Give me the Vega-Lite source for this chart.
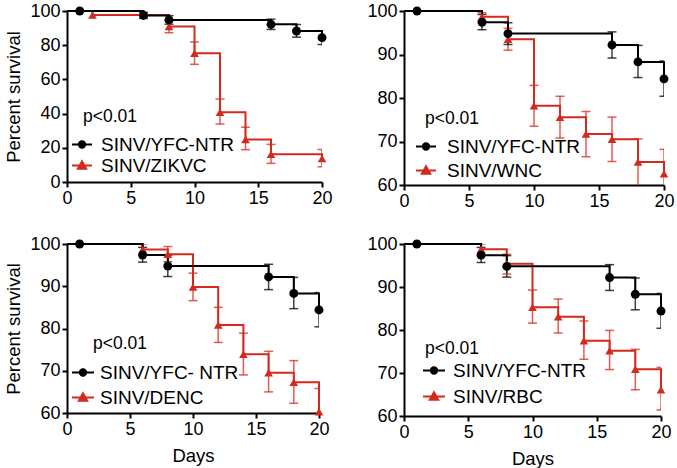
{
  "$schema": "https://vega.github.io/schema/vega-lite/v6.json",
  "padding": {"left": 4, "top": 2, "right": 0, "bottom": 0},
  "background": "white",
  "data": {"values": [
    {"p":1,"g":"SINV/ZIKVC","d":0,"s":100},
    {"p":1,"g":"SINV/ZIKVC","d":2,"s":97.6},
    {"p":1,"g":"SINV/ZIKVC","d":8,"s":91,"lo":87.3,"hi":94.3},
    {"p":1,"g":"SINV/ZIKVC","d":10,"s":75.3,"lo":68.8,"hi":81.9},
    {"p":1,"g":"SINV/ZIKVC","d":12,"s":40.8,"lo":33.9,"hi":48.5},
    {"p":1,"g":"SINV/ZIKVC","d":14,"s":24.9,"lo":18.9,"hi":32},
    {"p":1,"g":"SINV/ZIKVC","d":16,"s":16.2,"lo":10.9,"hi":22},
    {"p":1,"g":"SINV/ZIKVC","d":20,"s":13.8,"lo":8.9,"hi":19},
    {"p":1,"g":"SINV/YFC-NTR","d":0,"s":100},
    {"p":1,"g":"SINV/YFC-NTR","d":1,"s":100},
    {"p":1,"g":"SINV/YFC-NTR","d":6,"s":97.4,"lo":95.7,"hi":99.2},
    {"p":1,"g":"SINV/YFC-NTR","d":8,"s":94.8,"lo":92.3,"hi":97.3},
    {"p":1,"g":"SINV/YFC-NTR","d":16,"s":92.2,"lo":89.2,"hi":95.2},
    {"p":1,"g":"SINV/YFC-NTR","d":18,"s":88.3,"lo":84.7,"hi":92.1},
    {"p":1,"g":"SINV/YFC-NTR","d":20,"s":84.4,"lo":80.4,"hi":88.5},
    {"p":2,"g":"SINV/WNC","d":0,"s":100},
    {"p":2,"g":"SINV/WNC","d":6,"s":98.7,"lo":97.7,"hi":99.6},
    {"p":2,"g":"SINV/WNC","d":8,"s":93.5,"lo":91,"hi":96},
    {"p":2,"g":"SINV/WNC","d":10,"s":78.2,"lo":73.5,"hi":82.9},
    {"p":2,"g":"SINV/WNC","d":12,"s":75.6,"lo":70.8,"hi":80.4},
    {"p":2,"g":"SINV/WNC","d":14,"s":71.7,"lo":66.5,"hi":76.9},
    {"p":2,"g":"SINV/WNC","d":16,"s":70.5,"lo":65.4,"hi":75.6},
    {"p":2,"g":"SINV/WNC","d":18,"s":65.3,"lo":59,"hi":70.6},
    {"p":2,"g":"SINV/WNC","d":20,"s":62.6,"lo":57,"hi":68.2},
    {"p":2,"g":"SINV/YFC-NTR","d":0,"s":100},
    {"p":2,"g":"SINV/YFC-NTR","d":1,"s":100},
    {"p":2,"g":"SINV/YFC-NTR","d":6,"s":97.4,"lo":95.7,"hi":99.2},
    {"p":2,"g":"SINV/YFC-NTR","d":8,"s":94.8,"lo":92.3,"hi":97.3},
    {"p":2,"g":"SINV/YFC-NTR","d":16,"s":92.2,"lo":89.2,"hi":95.2},
    {"p":2,"g":"SINV/YFC-NTR","d":18,"s":88.3,"lo":84.7,"hi":92.1},
    {"p":2,"g":"SINV/YFC-NTR","d":20,"s":84.4,"lo":80.4,"hi":88.5},
    {"p":3,"g":"SINV/DENC","d":0,"s":100},
    {"p":3,"g":"SINV/DENC","d":6,"s":98.7,"lo":97.4,"hi":100},
    {"p":3,"g":"SINV/DENC","d":8,"s":97.6,"lo":95.8,"hi":99.4},
    {"p":3,"g":"SINV/DENC","d":10,"s":89.8,"lo":86.6,"hi":93.1},
    {"p":3,"g":"SINV/DENC","d":12,"s":80.8,"lo":76.7,"hi":85},
    {"p":3,"g":"SINV/DENC","d":14,"s":73.9,"lo":69,"hi":78.9},
    {"p":3,"g":"SINV/DENC","d":16,"s":69.5,"lo":65,"hi":74.6},
    {"p":3,"g":"SINV/DENC","d":18,"s":67.3,"lo":62.3,"hi":72.4},
    {"p":3,"g":"SINV/DENC","d":20,"s":60.3,"lo":55,"hi":65.8},
    {"p":3,"g":"SINV/YFC- NTR","d":0,"s":100},
    {"p":3,"g":"SINV/YFC- NTR","d":1,"s":100},
    {"p":3,"g":"SINV/YFC- NTR","d":6,"s":97.4,"lo":95.7,"hi":99.2},
    {"p":3,"g":"SINV/YFC- NTR","d":8,"s":94.8,"lo":92.3,"hi":97.3},
    {"p":3,"g":"SINV/YFC- NTR","d":16,"s":92.2,"lo":89.2,"hi":95.2},
    {"p":3,"g":"SINV/YFC- NTR","d":18,"s":88.3,"lo":84.7,"hi":92.1},
    {"p":3,"g":"SINV/YFC- NTR","d":20,"s":84.4,"lo":80.4,"hi":88.5},
    {"p":4,"g":"SINV/RBC","d":0,"s":100},
    {"p":4,"g":"SINV/RBC","d":6,"s":98.8,"lo":97.6,"hi":100},
    {"p":4,"g":"SINV/RBC","d":8,"s":95.4,"lo":93,"hi":97.6},
    {"p":4,"g":"SINV/RBC","d":10,"s":85.3,"lo":81.6,"hi":89.3},
    {"p":4,"g":"SINV/RBC","d":12,"s":83.1,"lo":79.3,"hi":87.2},
    {"p":4,"g":"SINV/RBC","d":14,"s":77.5,"lo":73.2,"hi":82.1},
    {"p":4,"g":"SINV/RBC","d":16,"s":75.2,"lo":70.8,"hi":79.9},
    {"p":4,"g":"SINV/RBC","d":18,"s":70.9,"lo":66.1,"hi":75.5},
    {"p":4,"g":"SINV/RBC","d":20,"s":66.1,"lo":61.4,"hi":71.3},
    {"p":4,"g":"SINV/YFC-NTR","d":0,"s":100},
    {"p":4,"g":"SINV/YFC-NTR","d":1,"s":100},
    {"p":4,"g":"SINV/YFC-NTR","d":6,"s":97.4,"lo":95.7,"hi":99.2},
    {"p":4,"g":"SINV/YFC-NTR","d":8,"s":94.8,"lo":92.3,"hi":97.3},
    {"p":4,"g":"SINV/YFC-NTR","d":16,"s":92.2,"lo":89.2,"hi":95.2},
    {"p":4,"g":"SINV/YFC-NTR","d":18,"s":88.3,"lo":84.7,"hi":92.1},
    {"p":4,"g":"SINV/YFC-NTR","d":20,"s":84.4,"lo":80.4,"hi":88.5}
  ]},
  "config": {
    "view": {"stroke": null},
    "font": "Liberation Sans",
    "scale": {"continuousPadding": 0},
    "axis": {
      "domainColor": "black", "domainWidth": 2, "tickColor": "black", "tickWidth": 2, "tickSize": 5,
      "labelFont": "Liberation Sans", "labelFontSize": 18, "labelColor": "black", "labelPadding": 2, "labelFlush": false, "labelOverlap": false,
      "titleFont": "Liberation Sans", "titleFontSize": 18.5, "titleFontWeight": "normal", "titleColor": "black", "titlePadding": 6,
      "grid": false
    },
    "axisX": {"titlePadding": 8},
    "legend": {
      "labelFont": "Liberation Sans", "labelFontSize": 19, "labelColor": "black",
      "titleFont": "Liberation Sans", "titleFontSize": 17.5, "titleFontWeight": "normal", "titleColor": "black",
      "symbolSize": 400, "padding": 0
    }
  },
  "columns": 2,
  "spacing": {"row": 25, "column": 33},
  "resolve": {
    "scale": {"color": "independent", "x": "independent", "y": "independent"},
    "legend": {"color": "independent"}
  },
  "concat": [
    {
      "width": 255, "height": 171,
      "transform": [{"filter": "datum.p === 1"}],
      "encoding": {
        "x": {"field": "d", "type": "quantitative", "scale": {"domain": [0, 20], "nice": false, "padding": 0}, "axis": {"values": [0, 5, 10, 15, 20], "title": null, "labelOverlap": false}},
        "y": {"field": "s", "type": "quantitative", "scale": {"domain": [0, 100], "nice": false, "padding": 0}, "axis": {"values": [0, 20, 40, 60, 80, 100], "title": "Percent survival", "labelOverlap": false}},
        "color": {"field": "g", "type": "nominal", "scale": {"domain": ["SINV/YFC-NTR", "SINV/ZIKVC"], "range": ["#000000", "#d42a1e"]},
          "legend": {"orient": "none", "legendX": 4, "legendY": 97, "title": "p<0.01", "titlePadding": 8, "rowPadding": 0, "labelOffset": 8,
            "encode": {
              "title": {"update": {"dx": {"value": 12}}},
              "symbols": {"update": {
                "shape": {"signal": "datum.index === 0 ? 'M-1,0L1,0M0.32,0A0.32,0.32,0,1,1,-0.32,0A0.32,0.32,0,1,1,0.32,0Z' : 'M-1,0L1,0M-0.42,0.32L0.42,0.32L0,-0.42Z'"},
                "fill": {"signal": "datum.index === 0 ? '#000000' : '#d42a1e'"},
                "stroke": {"signal": "datum.index === 0 ? '#000000' : '#d42a1e'"},
                "strokeWidth": {"value": 2}, "opacity": {"value": 1}, "fillOpacity": {"value": 1}, "strokeOpacity": {"value": 1}}}
            }}}
      },
      "layer": [
        {"mark": {"type": "rule", "strokeWidth": 1.5, "opacity": 0.75, "clip": true}, "transform": [{"filter": "isValid(datum.lo)"}],
          "encoding": {"y": {"field": "lo", "type": "quantitative"}, "y2": {"field": "hi"}}},
        {"mark": {"type": "tick", "orient": "horizontal", "size": 9, "thickness": 1.5, "opacity": 0.75, "clip": true}, "transform": [{"filter": "isValid(datum.lo)"}],
          "encoding": {"y": {"field": "lo", "type": "quantitative"}}},
        {"mark": {"type": "tick", "orient": "horizontal", "size": 9, "thickness": 1.5, "opacity": 0.75, "clip": true}, "transform": [{"filter": "isValid(datum.lo)"}],
          "encoding": {"y": {"field": "hi", "type": "quantitative"}}},
        {"mark": {"type": "line", "interpolate": "step-after", "strokeWidth": 2}, "encoding": {}},
        {"mark": {"type": "point", "shape": "triangle-up", "filled": true, "size": 75, "opacity": 1}, "transform": [{"filter": "datum.d > 0 && indexof(datum.g, 'YFC') < 0"}], "encoding": {}},
        {"mark": {"type": "point", "shape": "circle", "filled": true, "size": 80, "opacity": 1}, "transform": [{"filter": "datum.d > 0 && indexof(datum.g, 'YFC') >= 0"}], "encoding": {}}
      ]
    },
    {
      "width": 260, "height": 174,
      "transform": [{"filter": "datum.p === 2"}],
      "encoding": {
        "x": {"field": "d", "type": "quantitative", "scale": {"domain": [0, 20], "nice": false, "padding": 0}, "axis": {"values": [0, 5, 10, 15, 20], "title": null, "labelOverlap": false}},
        "y": {"field": "s", "type": "quantitative", "scale": {"domain": [60, 100], "nice": false, "padding": 0}, "axis": {"values": [60, 70, 80, 90, 100], "title": null, "labelOverlap": false}},
        "color": {"field": "g", "type": "nominal", "scale": {"domain": ["SINV/YFC-NTR", "SINV/WNC"], "range": ["#000000", "#d42a1e"]},
          "legend": {"orient": "none", "legendX": 11, "legendY": 99, "title": "p<0.01", "titlePadding": 8, "rowPadding": 3, "labelOffset": 10,
            "encode": {
              "title": {"update": {"dx": {"value": 10}}},
              "symbols": {"update": {
                "shape": {"signal": "datum.index === 0 ? 'M-1,0L1,0M0.32,0A0.32,0.32,0,1,1,-0.32,0A0.32,0.32,0,1,1,0.32,0Z' : 'M-1,0L1,0M-0.42,0.32L0.42,0.32L0,-0.42Z'"},
                "fill": {"signal": "datum.index === 0 ? '#000000' : '#d42a1e'"},
                "stroke": {"signal": "datum.index === 0 ? '#000000' : '#d42a1e'"},
                "strokeWidth": {"value": 2}, "opacity": {"value": 1}, "fillOpacity": {"value": 1}, "strokeOpacity": {"value": 1}}}
            }}}
      },
      "layer": [
        {"mark": {"type": "rule", "strokeWidth": 1.5, "opacity": 0.75, "clip": true}, "transform": [{"filter": "isValid(datum.lo)"}],
          "encoding": {"y": {"field": "lo", "type": "quantitative"}, "y2": {"field": "hi"}}},
        {"mark": {"type": "tick", "orient": "horizontal", "size": 9, "thickness": 1.5, "opacity": 0.75, "clip": true}, "transform": [{"filter": "isValid(datum.lo)"}],
          "encoding": {"y": {"field": "lo", "type": "quantitative"}}},
        {"mark": {"type": "tick", "orient": "horizontal", "size": 9, "thickness": 1.5, "opacity": 0.75, "clip": true}, "transform": [{"filter": "isValid(datum.lo)"}],
          "encoding": {"y": {"field": "hi", "type": "quantitative"}}},
        {"mark": {"type": "line", "interpolate": "step-after", "strokeWidth": 2}, "encoding": {}},
        {"mark": {"type": "point", "shape": "triangle-up", "filled": true, "size": 75, "opacity": 1}, "transform": [{"filter": "datum.d > 0 && indexof(datum.g, 'YFC') < 0"}], "encoding": {}},
        {"mark": {"type": "point", "shape": "circle", "filled": true, "size": 80, "opacity": 1}, "transform": [{"filter": "datum.d > 0 && indexof(datum.g, 'YFC') >= 0"}], "encoding": {}}
      ]
    },
    {
      "width": 252, "height": 169,
      "transform": [{"filter": "datum.p === 3"}],
      "encoding": {
        "x": {"field": "d", "type": "quantitative", "scale": {"domain": [0, 20], "nice": false, "padding": 0}, "axis": {"values": [0, 5, 10, 15, 20], "title": "Days", "labelOverlap": false}},
        "y": {"field": "s", "type": "quantitative", "scale": {"domain": [60, 100], "nice": false, "padding": 0}, "axis": {"values": [60, 70, 80, 90, 100], "title": "Percent survival", "labelOverlap": false}},
        "color": {"field": "g", "type": "nominal", "scale": {"domain": ["SINV/YFC- NTR", "SINV/DENC"], "range": ["#000000", "#d42a1e"]},
          "legend": {"orient": "none", "legendX": 5, "legendY": 91, "title": "p<0.01", "titlePadding": 9, "rowPadding": 4, "labelOffset": 6,
            "encode": {
              "title": {"update": {"dx": {"value": 21}}},
              "symbols": {"update": {
                "shape": {"signal": "datum.index === 0 ? 'M-1.1,0L1.1,0M0.32,0A0.32,0.32,0,1,1,-0.32,0A0.32,0.32,0,1,1,0.32,0Z' : 'M-1.1,0L1.1,0M-0.42,0.32L0.42,0.32L0,-0.42Z'"},
                "fill": {"signal": "datum.index === 0 ? '#000000' : '#d42a1e'"},
                "stroke": {"signal": "datum.index === 0 ? '#000000' : '#d42a1e'"},
                "strokeWidth": {"value": 2}, "opacity": {"value": 1}, "fillOpacity": {"value": 1}, "strokeOpacity": {"value": 1}}}
            }}}
      },
      "layer": [
        {"mark": {"type": "rule", "strokeWidth": 1.5, "opacity": 0.75, "clip": true}, "transform": [{"filter": "isValid(datum.lo)"}],
          "encoding": {"y": {"field": "lo", "type": "quantitative"}, "y2": {"field": "hi"}}},
        {"mark": {"type": "tick", "orient": "horizontal", "size": 9, "thickness": 1.5, "opacity": 0.75, "clip": true}, "transform": [{"filter": "isValid(datum.lo)"}],
          "encoding": {"y": {"field": "lo", "type": "quantitative"}}},
        {"mark": {"type": "tick", "orient": "horizontal", "size": 9, "thickness": 1.5, "opacity": 0.75, "clip": true}, "transform": [{"filter": "isValid(datum.lo)"}],
          "encoding": {"y": {"field": "hi", "type": "quantitative"}}},
        {"mark": {"type": "line", "interpolate": "step-after", "strokeWidth": 2}, "encoding": {}},
        {"mark": {"type": "point", "shape": "triangle-up", "filled": true, "size": 75, "opacity": 1}, "transform": [{"filter": "datum.d > 0 && indexof(datum.g, 'YFC') < 0"}], "encoding": {}},
        {"mark": {"type": "point", "shape": "circle", "filled": true, "size": 80, "opacity": 1}, "transform": [{"filter": "datum.d > 0 && indexof(datum.g, 'YFC') >= 0"}], "encoding": {}}
      ]
    },
    {
      "width": 257, "height": 172,
      "transform": [{"filter": "datum.p === 4"}],
      "encoding": {
        "x": {"field": "d", "type": "quantitative", "scale": {"domain": [0, 20], "nice": false, "padding": 0}, "axis": {"values": [0, 5, 10, 15, 20], "title": "Days", "labelOverlap": false}},
        "y": {"field": "s", "type": "quantitative", "scale": {"domain": [60, 100], "nice": false, "padding": 0}, "axis": {"values": [60, 70, 80, 90, 100], "title": null, "labelOverlap": false}},
        "color": {"field": "g", "type": "nominal", "scale": {"domain": ["SINV/YFC-NTR", "SINV/RBC"], "range": ["#000000", "#d42a1e"]},
          "legend": {"orient": "none", "legendX": 19, "legendY": 96, "title": "p<0.01", "titlePadding": 2, "rowPadding": 5, "labelOffset": 8,
            "encode": {
              "title": {"update": {"dx": {"value": 2}}},
              "symbols": {"update": {
                "shape": {"signal": "datum.index === 0 ? 'M-1.1,0L1.1,0M0.32,0A0.32,0.32,0,1,1,-0.32,0A0.32,0.32,0,1,1,0.32,0Z' : 'M-1.1,0L1.1,0M-0.42,0.32L0.42,0.32L0,-0.42Z'"},
                "fill": {"signal": "datum.index === 0 ? '#000000' : '#d42a1e'"},
                "stroke": {"signal": "datum.index === 0 ? '#000000' : '#d42a1e'"},
                "strokeWidth": {"value": 2}, "opacity": {"value": 1}, "fillOpacity": {"value": 1}, "strokeOpacity": {"value": 1}}}
            }}}
      },
      "layer": [
        {"mark": {"type": "rule", "strokeWidth": 1.5, "opacity": 0.75, "clip": true}, "transform": [{"filter": "isValid(datum.lo)"}],
          "encoding": {"y": {"field": "lo", "type": "quantitative"}, "y2": {"field": "hi"}}},
        {"mark": {"type": "tick", "orient": "horizontal", "size": 9, "thickness": 1.5, "opacity": 0.75, "clip": true}, "transform": [{"filter": "isValid(datum.lo)"}],
          "encoding": {"y": {"field": "lo", "type": "quantitative"}}},
        {"mark": {"type": "tick", "orient": "horizontal", "size": 9, "thickness": 1.5, "opacity": 0.75, "clip": true}, "transform": [{"filter": "isValid(datum.lo)"}],
          "encoding": {"y": {"field": "hi", "type": "quantitative"}}},
        {"mark": {"type": "line", "interpolate": "step-after", "strokeWidth": 2}, "encoding": {}},
        {"mark": {"type": "point", "shape": "triangle-up", "filled": true, "size": 75, "opacity": 1}, "transform": [{"filter": "datum.d > 0 && indexof(datum.g, 'YFC') < 0"}], "encoding": {}},
        {"mark": {"type": "point", "shape": "circle", "filled": true, "size": 80, "opacity": 1}, "transform": [{"filter": "datum.d > 0 && indexof(datum.g, 'YFC') >= 0"}], "encoding": {}}
      ]
    }
  ]
}
